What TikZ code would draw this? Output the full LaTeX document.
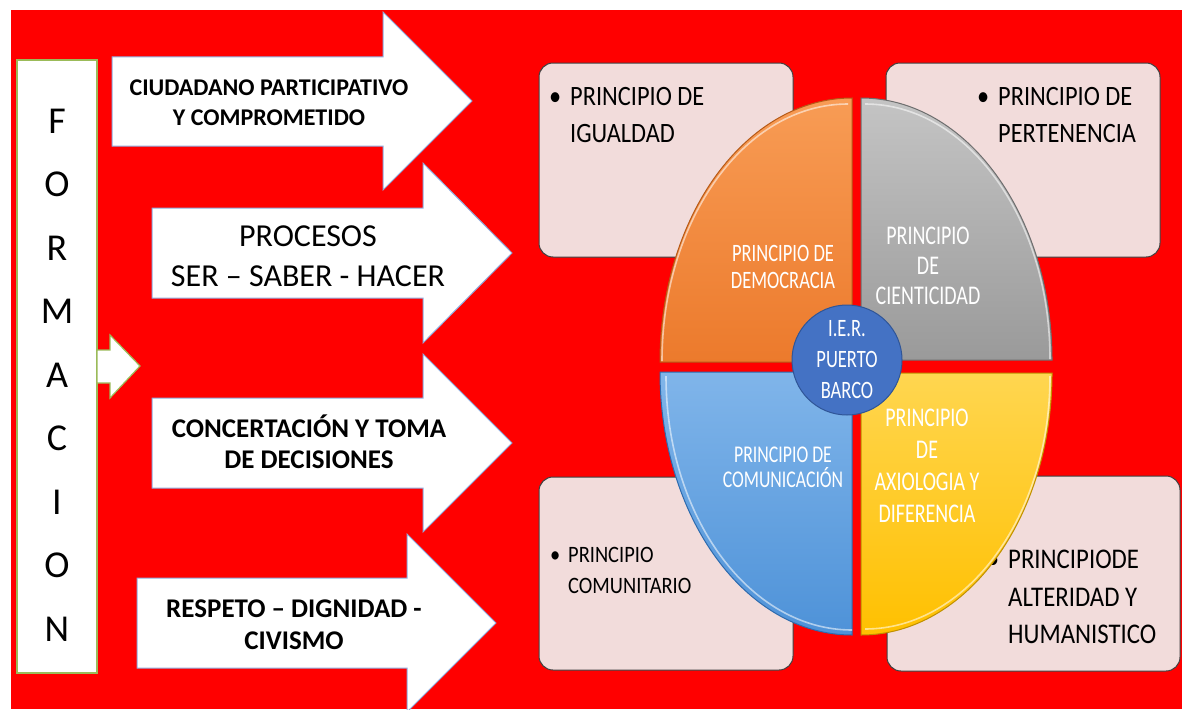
\documentclass[tikz,border=0pt]{standalone}
\usepackage{fontspec}
\setmainfont{Carlito}
\newfontfamily\boxfont[FakeStretch=0.87]{Carlito}
\newfontfamily\piefont[FakeStretch=0.74]{Carlito}
\definecolor{bgred}{HTML}{FF0000}
\definecolor{pinkfill}{HTML}{F2DCDB}
\definecolor{formgreen}{HTML}{9BBB59}
\definecolor{arrowblue}{HTML}{8FAADC}
\definecolor{orTop}{HTML}{F89C55}
\definecolor{orBot}{HTML}{EC7A2C}
\definecolor{orLine}{HTML}{B65A17}
\definecolor{grTop}{HTML}{C4C4C4}
\definecolor{grBot}{HTML}{9A9A9A}
\definecolor{grLine}{HTML}{6E6E6E}
\definecolor{blTop}{HTML}{80B5EA}
\definecolor{blBot}{HTML}{4E92D8}
\definecolor{blLine}{HTML}{2E6BAE}
\definecolor{yeTop}{HTML}{FFD650}
\definecolor{yeBot}{HTML}{FFC000}
\definecolor{yeLine}{HTML}{C09000}
\definecolor{circFill}{HTML}{4472C4}
\definecolor{circLine}{HTML}{2F5597}
\tikzset{
  bigarrow/.style={fill=white, draw=arrowblue, line width=1pt, line join=miter},
  smallarrow/.style={fill=white, draw=formgreen, line width=1.2pt},
  formbox/.style={fill=white, draw=formgreen, line width=1.2pt},
  pinkbox/.style={rectangle, rounded corners=14pt, fill=pinkfill, draw=black!75, line width=1pt, inner sep=0pt, outer sep=0pt},
  arrtxt/.style={align=center, inner sep=0pt, text=black},
  boxtxt/.style={align=left, inner sep=0pt, text=black, anchor=north west},
  pietxt/.style={align=center, inner sep=0pt, text=white},
  hilite/.style={white, opacity=0.55, line width=1.6pt},
}
\begin{document}
\begin{tikzpicture}[x=1pt,y=-1pt]
\useasboundingbox (0,0) rectangle (1182,709);
\fill[white] (0,0) rectangle (1182,709);
\fill[bgred] (11,10) rectangle (1182,709);

% FORMACION column
\path[formbox] (17,60) rectangle (97,673);
\node[align=center, inner sep=0pt, font=\fontsize{38}{63.5}\selectfont] (formacion) at (57,375) {F\\O\\R\\M\\A\\C\\I\\O\\N};
\path[smallarrow] (97,350) -- (110,350) -- (110,335) -- (140,366) -- (110,398) -- (110,383) -- (97,383) -- cycle;

% big arrows
\path[bigarrow] (112,57) -- (383,57) -- (383,12) -- (472,101) -- (383,190) -- (383,146) -- (112,146) -- cycle;
\path[bigarrow] (152,208) -- (423,208) -- (423,163) -- (512,253) -- (423,343) -- (423,298) -- (152,298) -- cycle;
\path[bigarrow] (152,398) -- (423,398) -- (423,354) -- (512,443) -- (423,532) -- (423,488) -- (152,488) -- cycle;
\path[bigarrow] (137,578) -- (407,578) -- (407,534) -- (496,623) -- (407,712) -- (407,668) -- (137,668) -- cycle;

\node[arrtxt, font=\bfseries\fontsize{24}{30}\selectfont] (a1) at (269,102.5) {CIUDADANO PARTICIPATIVO\\Y COMPROMETIDO};
\node[arrtxt, font=\fontsize{32}{40}\selectfont] (a2) at (308,256) {PROCESOS\\SER -- SABER - HACER};
\node[arrtxt, font=\bfseries\fontsize{27}{31}\selectfont] (a3) at (309,441.5) {CONCERTACIÓN Y TOMA\\DE DECISIONES};
\node[arrtxt, font=\bfseries\fontsize{27}{32}\selectfont] (a4) at (294,624.5) {RESPETO -- DIGNIDAD -\\CIVISMO};

% pink boxes
\node[pinkbox, minimum width=254pt, minimum height=194pt] (boxTL) at (666,160) {};
\node[pinkbox, minimum width=274pt, minimum height=194pt] (boxTR) at (1023,160) {};
\node[pinkbox, minimum width=254pt, minimum height=193pt] (boxBL) at (666,573.5) {};
\node[pinkbox, minimum width=293pt, minimum height=195pt] (boxBR) at (1033.5,573.5) {};

\node[boxtxt, font=\boxfont\fontsize{28}{37}\selectfont] (tTL) at (570,87) {\llap{\textbullet\hspace{9pt}}PRINCIPIO DE\\IGUALDAD};
\node[boxtxt, font=\boxfont\fontsize{28}{37}\selectfont] (tTR) at (998,87) {\llap{\textbullet\hspace{9pt}}PRINCIPIO DE\\PERTENENCIA};
\node[boxtxt, font=\boxfont\fontsize{23.5}{31}\selectfont] (tBL) at (568,547) {\llap{\textbullet\hspace{8pt}}PRINCIPIO\\COMUNITARIO};
\node[boxtxt, font=\boxfont\fontsize{28.5}{37.5}\selectfont] (tBR) at (1008,550) {\llap{\textbullet\hspace{9pt}}PRINCIPIODE\\ALTERIDAD Y\\HUMANISTICO};

% pie quadrants
\path[top color=orTop, bottom color=orBot, draw=orLine, line width=1pt]
  (852,362) -- (852,98) arc[start angle=90, end angle=180, x radius=192pt, y radius=264pt] -- cycle;
\draw[hilite] (848,104) arc[start angle=90, end angle=180, x radius=186pt, y radius=257pt];
\path[top color=grTop, bottom color=grBot, draw=grLine, line width=1pt]
  (861,360) -- (861,98) arc[start angle=90, end angle=0, x radius=191pt, y radius=262pt] -- cycle;
\draw[hilite] (865,104) arc[start angle=90, end angle=0, x radius=185pt, y radius=255pt];
\path[top color=blTop, bottom color=blBot, draw=blLine, line width=1pt]
  (852,372) -- (660,372) arc[start angle=180, end angle=270, x radius=192pt, y radius=263pt] -- cycle;
\draw[hilite] (666,376) arc[start angle=180, end angle=270, x radius=186pt, y radius=254pt];
\path[top color=yeTop, bottom color=yeBot, draw=yeLine, line width=1pt]
  (861,373) -- (861,635) arc[start angle=270, end angle=360, x radius=191pt, y radius=262pt] -- cycle;
\draw[hilite] (865,629) arc[start angle=270, end angle=360, x radius=185pt, y radius=253pt];

\node[pietxt, font=\piefont\fontsize{25}{27}\selectfont] (pOr) at (783,267) {PRINCIPIO DE\\DEMOCRACIA};
\node[pietxt, font=\piefont\fontsize{27}{30}\selectfont] (pGr) at (928,266) {PRINCIPIO\\DE\\CIENTICIDAD};
\node[pietxt, font=\piefont\fontsize{24}{25}\selectfont] (pBl) at (783,467) {PRINCIPIO DE\\COMUNICACIÓN};
\node[pietxt, font=\piefont\fontsize{27}{32}\selectfont] (pYe) at (927,466) {PRINCIPIO\\DE\\AXIOLOGIA Y\\DIFERENCIA};

% centre circle
\node[circle, fill=circFill, draw=circLine, line width=1pt, minimum size=110pt, inner sep=0pt, align=center, text=white, font=\piefont\fontsize{25}{31}\selectfont] (ier) at (847,360) {I.E.R.\\PUERTO\\BARCO};
\end{tikzpicture}
\end{document}
